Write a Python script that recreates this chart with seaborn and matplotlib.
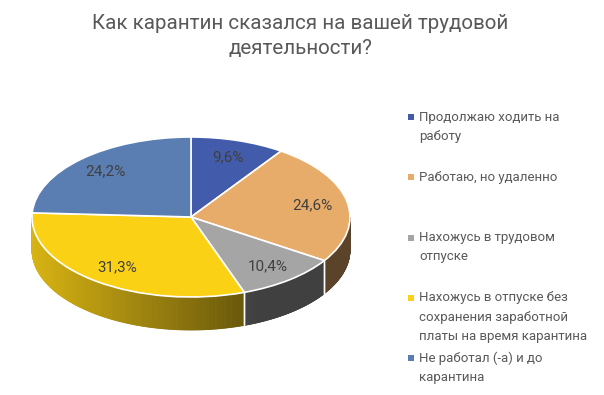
"""
Pie chart (3D style): how the quarantine affected work
"""

import numpy as np
import matplotlib
matplotlib.use("Agg")
import matplotlib.pyplot as plt
import matplotlib.colors as mcolors
from matplotlib.patches import Rectangle
import seaborn as sns

# -----------------------------
# Data
# -----------------------------
title_lines = ["Как карантин сказался на вашей трудовой", "деятельности?"]
categories = [
    "Продолжаю ходить на\nработу",
    "Работаю, но удаленно",
    "Нахожусь в трудовом\nотпуске",
    "Нахожусь в отпуске без\nсохранения заработной\nплаты на время карантина",
    "Не работал (-а) и до\nкарантина",
]
shares = [9.6, 24.6, 10.4, 31.3, 24.2]
colors = ["#425BAA", "#E8AC6A", "#A5A5A5", "#FBD116", "#5A7DB2"]

# -----------------------------
# Style
# -----------------------------
sns.set_theme(style="white")
plt.rcParams["font.family"] = ["Roboto", "DejaVu Sans"]

W, H = 604, 395
fig = plt.figure(figsize=(W / 100, H / 100), dpi=100)
fig.patch.set_facecolor("white")

# pie geometry in pixels (centre, radii, side depth)
cx, cy, rx, ry, depth_px = 191, 217, 159, 80, 33
left, right, top, bottom = 15, 385, 115, 350

ax = fig.add_axes([left / W, 1 - bottom / H, (right - left) / W, (bottom - top) / H])

wedges, texts, autotexts = ax.pie(
    shares,
    colors=colors,
    startangle=90,
    counterclock=False,
    autopct=lambda p: f"{p:.1f}%".replace(".", ","),
    pctdistance=0.78,
    wedgeprops=dict(edgecolor="white", linewidth=1.2, zorder=2),
    textprops=dict(color="#404040", fontsize=11),
)
for t in autotexts:
    t.set_zorder(3)

ax.set_aspect("auto")
ax.set_xlim((left - cx) / rx, (right - cx) / rx)
ax.set_ylim((cy - bottom) / ry, (cy - top) / ry)
ax.axis("off")

# -----------------------------
# Side wall of the pie (front half only)
# -----------------------------
depth = depth_px / ry
for w, base in zip(wedges, colors):
    t = np.radians(np.linspace(w.theta1, w.theta2, 240))
    t = t[np.sin(t) <= 1e-9]
    if len(t) < 2:
        continue
    rgb = np.array(mcolors.to_rgb(base))
    for a, b in zip(t[:-1], t[1:]):
        xm = (np.cos(a) + np.cos(b)) / 2
        shade = max(0.39, 0.86 - 0.33 * (xm + 1))
        c = np.clip(rgb * shade, 0, 1)
        ax.fill([np.cos(a), np.cos(b), np.cos(b), np.cos(a)],
                [np.sin(a), np.sin(b), np.sin(b) - depth, np.sin(a) - depth],
                color=c, lw=0.6, zorder=1)

# white seams on the side at wedge borders
for w in wedges:
    for ang in (w.theta1, w.theta2):
        r = np.radians(ang)
        if np.sin(r) < -0.05:
            ax.plot([np.cos(r), np.cos(r)], [np.sin(r), np.sin(r) - depth],
                    color="white", lw=1.0, zorder=1.5)

# -----------------------------
# Title
# -----------------------------
for i, line in enumerate(title_lines):
    fig.text(300.5 / W, 1 - (29 + 25 * i) / H, line, ha="center", va="baseline",
             fontsize=14.8, color="#595959")

# -----------------------------
# Legend (evenly spaced slots like Excel)
# -----------------------------
slot_top, slot_step, line_step = 117, 60.3, 19.3
for i, (cat, col) in enumerate(zip(categories, colors)):
    y0 = slot_top + i * slot_step
    fig.add_artist(Rectangle((408 / W, 1 - (y0 + 3) / H), 6 / W, 6 / H,
                             transform=fig.transFigure, color=col, lw=0))
    for j, line in enumerate(cat.split("\n")):
        fig.text(419 / W, 1 - (y0 + j * line_step) / H, line, ha="left",
                 va="center", fontsize=9.5, color="#595959")

plt.savefig("out.png", dpi=100)
plt.close()
